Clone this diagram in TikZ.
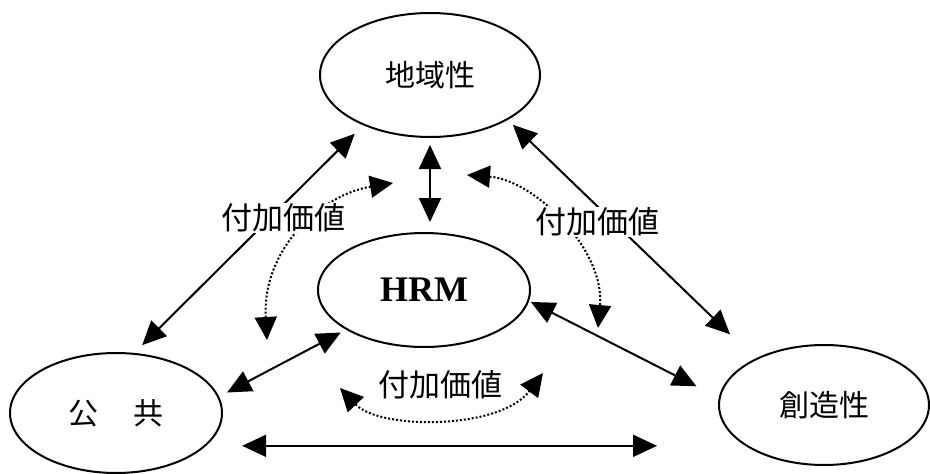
\documentclass[tikz,border=0pt]{standalone}
\usepackage{fontspec}
\setmainfont{Liberation Serif}
\newfontfamily\cjk{Noto Sans CJK JP}
\usetikzlibrary{shapes.geometric,arrows.meta,calc}
\begin{document}
\begin{tikzpicture}[x=1pt,y=-1pt,
  oval/.style={ellipse,draw,line width=2pt,inner sep=0pt},
  jp/.style={font=\cjk\fontsize{30}{30}\selectfont},
  dbl/.style={line width=2pt,{Triangle[length=24pt,width=22pt]}-{Triangle[length=24pt,width=22pt]}},
  dotarc/.style={line width=2pt,dotted,{Triangle[length=23pt,width=22pt]}-{Triangle[length=23pt,width=22pt]}},
  vlabel/.style={font=\cjk\fontsize{31}{31}\selectfont,fill=white,inner sep=1pt}]
\useasboundingbox (0,0) rectangle (930,474);

\node[oval,jp,minimum width=220pt,minimum height=124pt] (dom) at (430,75) {地域性};
\node[oval,minimum width=212pt,minimum height=114pt,font=\bfseries\fontsize{36}{36}\selectfont] (hrm) at (424,290) {HRM};
\node[oval,jp,minimum width=212pt,minimum height=120pt] (pub) at (116,413) {公\hspace{35pt}共};
\node[oval,jp,minimum width=210pt,minimum height=120pt] (cre) at (824,405) {創造性};

% dotted value-added arcs
\coordinate (l1) at (267,340); \coordinate (l2) at (393,183);
\coordinate (r1) at (467,175); \coordinate (r2) at (598,328);
\coordinate (b1) at (340,388); \coordinate (b2) at (543,373);
\draw[dotarc] (l1) .. controls (262,250) and (320,195) .. (l2);
\draw[dotarc] (r1) .. controls (535,180) and (605,250) .. (r2);
\draw[dotarc] (b1) .. controls (380,430) and (500,430) .. (b2);

% solid double arrows
\draw[dbl,shorten <=12pt,shorten >=11pt] (dom.217) -- (pub.73);
\draw[dbl,shorten <=7pt,shorten >=35pt] (dom.330) -- (cre.146);
\draw[dbl,shorten <=7pt,shorten >=10pt] (dom.south) -- (dom.south |- hrm.north);
\draw[dbl,shorten <=6pt,shorten >=9pt] (hrm.207) -- (pub.9);
\draw[dbl,shorten <=2pt,shorten >=25pt] (hrm.354) -- (cre.176);
\draw[dbl,shorten <=36pt,shorten >=61pt] (pub.-20) -- (pub.-20 -| cre.west);

% labels
\node[vlabel] (lv1) at (283,218) {付加価値};
\node[vlabel] (lv2) at (597,222) {付加価値};
\node[vlabel,fill=none] (lv3) at (440,385) {付加価値};
\end{tikzpicture}
\end{document}
